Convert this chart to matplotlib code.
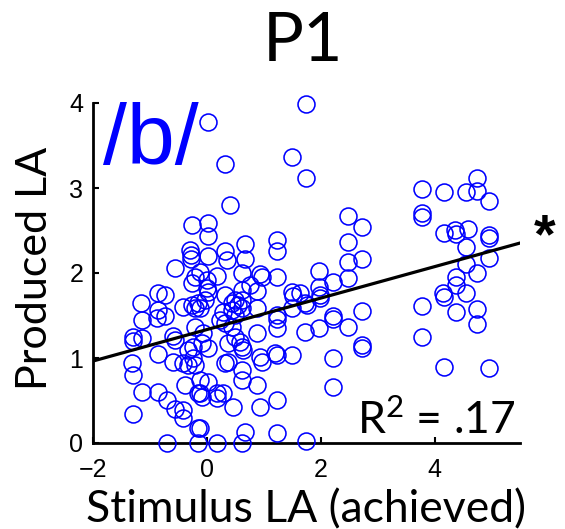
import matplotlib
matplotlib.use("Agg")
import matplotlib.pyplot as plt
import numpy as np

# ---- data ----
stim_la = [
    # right cluster
    3.77, 4.17, 4.56, 4.75, 4.75, 4.96, 3.77, 3.77, 4.17, 4.35, 4.38, 4.58, 4.96, 4.96, 4.56,
    4.56, 4.96, 4.75, 4.37, 4.37, 4.15, 4.17, 4.56, 4.37, 4.75, 4.75, 3.77, 3.77, 4.17, 4.96,
    # upper / middle
    1.74, 0.02, 1.50, 0.32, 1.74, 0.40, 2.48, 2.73, 2.48, 2.48, 2.73, 2.48, 1.97, 2.22, 1.97,
    1.99, 1.99, 1.76, 1.64, 2.22, 2.73, 1.97, 1.73, 2.48, 2.73, 2.73, 2.22, 2.22, 1.74, 1.50,
    2.22,
    -0.26, 0.02, 0.02, 1.23, 1.23, 0.67, -0.30, -0.28, -0.28, 0.02, 0.32, 0.35, 0.67, -0.56,
    -0.26, -0.21, 0.62, 0.93, 0.97, 1.23, 0.18, 0.00, 0.00, 0.02, 0.32, 0.62, 0.76, 0.88,
    1.50, 1.50, 1.73, 0.44, 0.49, 0.55, 0.62, 0.44, 0.49, 0.62, 0.88, 1.23, 0.28, -0.16,
    -0.12, 0.23, -0.86, -0.74, -1.16, -0.86, -0.74, -1.14, -0.42, -0.26, -0.21, -0.04, -0.12,
    1.23, 1.23,
    # lower
    -0.88, -1.30, -1.30, -1.14, -0.60, -0.56, -0.21, -0.86, -1.32, -1.30, -1.14, -0.86, -0.70,
    -0.56, -0.42, -0.42, -1.30, -0.60, -0.42, -0.33, -0.25, -0.21, -0.39, -0.16, -0.09, -0.33,
    -0.25, -0.70, -0.16, -0.16, 0.02, -0.07, 0.37, 0.32, 0.44, 0.49, 0.58, 0.62, 0.63, 0.88,
    0.93, 0.97, 1.20, 1.23, 0.32, 0.37, 0.62, 0.62, 0.88, 0.02, -0.12, -0.09, 0.18, 0.18, 0.28,
    0.46, 0.93, 1.23, -0.12, 0.67, 1.23, 0.18, 0.62, -0.12, 1.51,
]
prod_la = [
    # right cluster
    2.99, 2.95, 2.95, 3.12, 2.96, 2.85, 2.71, 2.66, 2.47, 2.51, 2.46, 2.52, 2.45, 2.41, 2.31,
    2.11, 2.18, 2.00, 1.95, 1.86, 1.76, 1.72, 1.76, 1.54, 1.58, 1.40, 1.61, 1.25, 0.89, 0.88,
    # upper / middle
    3.99, 3.78, 3.36, 3.28, 3.12, 2.80, 2.67, 2.54, 2.36, 2.13, 2.16, 1.94, 2.02, 1.89, 1.84,
    1.74, 1.71, 1.62, 1.76, 1.49, 1.55, 1.35, 1.31, 1.36, 1.15, 1.12, 1.00, 0.66, 0.02, 1.04,
    1.46,
    2.56, 2.59, 2.44, 2.39, 2.26, 2.34, 2.27, 2.21, 2.16, 2.20, 2.26, 2.15, 2.16, 2.06,
    1.88, 1.95, 2.00, 1.99, 1.95, 1.95, 1.96, 1.92, 1.82, 1.78, 1.74, 1.80, 1.86, 1.79,
    1.78, 1.59, 1.65, 1.65, 1.68, 1.62, 1.68, 1.56, 1.51, 1.59, 1.59, 1.51, 1.54, 1.65,
    1.59, 1.45, 1.76, 1.74, 1.65, 1.56, 1.49, 1.45, 1.60, 1.62, 1.59, 1.68, 2.01,
    1.46, 1.35,
    # lower
    1.47, 1.25, 1.20, 1.24, 1.26, 1.21, 1.36, 1.05, 0.94, 0.80, 0.60, 0.60, 0.51,
    0.40, 0.39, 0.29, 0.34, 0.95, 0.94, 0.92, 1.00, 0.92, 0.68, 0.59, 1.18, 1.09,
    1.13, 0.00, 0.18, 0.00, 1.12, 1.29, 1.18, 1.41, 1.36, 1.25, 1.19, 1.13, 1.09, 1.29,
    1.01, 0.95, 1.06, 1.04, 0.94, 0.95, 0.86, 0.74, 0.68, 0.72, 0.59, 0.54, 0.59, 0.53, 0.59,
    0.42, 0.42, 0.51, 0.18, 0.13, 0.12, 0.00, 0.00, 0.74, 1.73,
]
x_ticks = [-2, 0, 2, 4]
y_ticks = [0, 1, 2, 3, 4]
x_limits = (-2, 5.5)
y_limits = (0, 4)
title_text = "P1"
condition_text = "/b/"
r2_text = "R$^{2}$ = .17"
sig_text = "*"
x_label = "Stimulus LA (achieved)"
y_label = "Produced LA"

plt.rcParams["mathtext.fontset"] = "custom"
plt.rcParams["mathtext.rm"] = "Lato"
plt.rcParams["mathtext.it"] = "Lato:italic"
plt.rcParams["mathtext.bf"] = "Lato:bold"

x = np.array(stim_la)
y = np.array(prod_la)
slope, intercept = np.polyfit(x, y, 1)

fig = plt.figure(figsize=(5.65, 5.29), dpi=100)
W, H = 565, 529
ax = fig.add_axes([93 / W, 86 / H, 427 / W, 340 / H])

ax.plot(x, y, "o", mfc="none", mec=(0, 0, 1), ms=12.2, mew=1.15, clip_on=False, zorder=3)
xx = np.array(x_limits)
ax.plot(xx, intercept + slope * xx, color="black", lw=2.3, zorder=4)

ax.set_xlim(*x_limits)
ax.set_ylim(*y_limits)
ax.set_xticks(x_ticks)
ax.set_yticks(y_ticks)
for s in ("top", "right"):
    ax.spines[s].set_visible(False)
for s in ("left", "bottom"):
    ax.spines[s].set_linewidth(2.0)
ax.tick_params(direction="in", length=4, width=1.5, labelsize=18)
ax.tick_params(axis="x", pad=11)
ax.tick_params(axis="y", pad=7)
for lab in ax.get_xticklabels() + ax.get_yticklabels():
    lab.set_fontfamily("Liberation Sans")

fig.text(303 / W, 1 - 61 / H, title_text, fontsize=49, family="Lato",
         ha="center", va="baseline")
fig.text(103 / W, 1 - 164 / H, condition_text, fontsize=62, family="Liberation Sans",
         color=(0, 0, 1), ha="left", va="baseline")
fig.text(515 / W, 1 - 434 / H, r2_text, fontsize=32, family="Lato",
         ha="right", va="baseline")
fig.text(545 / W, 1 - 238 / H, sig_text, fontsize=40, family="Liberation Sans",
         weight="bold", ha="center", va="center")
fig.text(306 / W, 1 - 522 / H, x_label, fontsize=32, family="Lato",
         ha="center", va="baseline")
fig.text(47 / W, 1 - 268 / H, y_label, fontsize=31, family="Lato",
         ha="center", va="baseline", rotation=90, rotation_mode="anchor")

fig.savefig("out.png", dpi=100)
